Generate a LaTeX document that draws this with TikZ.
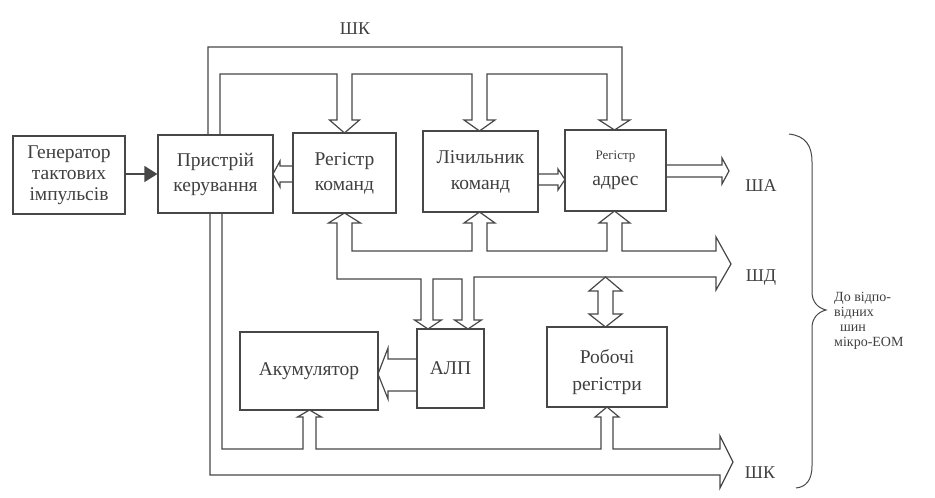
\documentclass[tikz,border=0pt]{standalone}
\usepackage{fontspec}
\setmainfont{Liberation Serif}
\usetikzlibrary{arrows.meta}
\definecolor{ink}{gray}{0.28}
\definecolor{txt}{gray}{0.25}
\begin{document}
\begin{tikzpicture}[x=1pt,y=-1pt,
  box/.style={draw=ink, line width=1.2pt, inner sep=0pt, align=center, text=txt, font=\fontsize{19.5}{21}\selectfont},
  bus/.style={draw=ink, line width=1.2pt, line join=miter},
  lbl/.style={text=txt, font=\fontsize{18}{21}\selectfont, inner sep=0pt},
  small/.style={text=txt, font=\fontsize{14}{14}\selectfont, inner sep=0pt, anchor=base west}]
\fill[white] (0,0) rectangle (935,498);
\path[use as bounding box] (0,0) rectangle (935,498);

% boxes
\node[box, minimum width=112pt, minimum height=78pt] (gen) at (69,175) {Генератор\\тактових\\імпульсів};
\node[box, minimum width=115pt, minimum height=78pt, font=\fontsize{19.5}{25}\selectfont] (pk) at (215.5,174) {Пристрій\\керування};
\node[box, minimum width=103pt, minimum height=80pt, font=\fontsize{19.5}{25}\selectfont] (rk) at (344.5,173) {Регістр\\команд};
\node[box, minimum width=115pt, minimum height=81pt, font=\fontsize{19.5}{26}\selectfont] (lk) at (480.5,171.5) {Лічильник\\команд};
\node[box, minimum width=101pt, minimum height=81pt, font=\fontsize{19.5}{26}\selectfont] (ra) at (615.5,170.5) {{\fontsize{13}{15}\selectfont Регістр}\\адрес};
\node[box, minimum width=138pt, minimum height=78pt] (ak) at (309,371) {Акумулятор};
\node[box, minimum width=67pt, minimum height=79pt] (alp) at (450.5,368.5) {АЛП};
\node[box, minimum width=120pt, minimum height=80pt] (rr) at (607,367) {};
\node[box, draw=none, font=\fontsize{19.5}{27}\selectfont] (rrtext) at (607,372) {Робочі\\регістри};

% generator -> control unit
\draw[draw=ink, line width=1.2pt, -{Triangle[length=13pt,width=16pt]}] (gen.east |- 0,174) -- (pk.west |- 0,174);

% top control bus (ШК)
\draw[bus] (208,135) -- (208,47) -- (622,47) -- (622,120) -- (630,120) -- (614.5,130)
  -- (599,120) -- (607,120) -- (607,74) -- (487,74) -- (487,120) -- (495,120)
  -- (479.5,131) -- (464,120) -- (472,120) -- (472,74) -- (352,74) -- (352,120)
  -- (359.5,120) -- (344.5,133) -- (329.5,120) -- (337,120) -- (337,74) -- (220,74) -- (220,135);

% data bus (ШД)
\draw[bus] (344.5,213) -- (360.5,223) -- (352,223) -- (352,251) -- (472,251) -- (472,223)
  -- (464,223) -- (479.5,212) -- (495,223) -- (487,223) -- (487,251) -- (607,251)
  -- (607,223) -- (599,223) -- (614.5,211) -- (630,223) -- (622,223) -- (622,251)
  -- (716,251) -- (716,237) -- (731,264) -- (716,290) -- (716,277) -- (474,277)
  -- (474,320) -- (481.5,320) -- (468,329) -- (454.5,320) -- (462,320) -- (462,279)
  -- (433,279) -- (433,320) -- (441.5,320) -- (428,329) -- (414.5,320) -- (421,320)
  -- (421,279) -- (337,279) -- (337,223) -- (328.5,223) -- cycle;

% double arrow to working registers
\draw[bus] (605.5,277) -- (622,291) -- (613,291) -- (613,314) -- (622,314) -- (605.5,327)
  -- (589,314) -- (598,314) -- (598,291) -- (589,291) -- cycle;

% bottom control bus (ШК)
\draw[bus] (210,213) -- (210,475) -- (720,475) -- (720,488) -- (733,462) -- (720,436)
  -- (720,449) -- (613,449) -- (613,417) -- (619,417) -- (607,407) -- (595,417)
  -- (601,417) -- (601,449) -- (316,449) -- (316,417) -- (321.5,417) -- (309.5,410)
  -- (297.5,417) -- (303,417) -- (303,449) -- (222,449) -- (222,213);

% ALP -> accumulator
\draw[bus] (417,359) -- (388,359) -- (388,348) -- (378,374) -- (388,399) -- (388,391) -- (417,391);

% instruction register -> control unit
\draw[bus] (293,166) -- (280,166) -- (280,161) -- (273,174) -- (280,187) -- (280,182) -- (293,182);

% counter -> address register
\draw[bus] (538,174) -- (558,174) -- (558,169) -- (565,179.5) -- (558,190) -- (558,185) -- (538,185);

% address register -> ША
\draw[bus] (666,165) -- (722,165) -- (722,158) -- (729,171) -- (722,184) -- (722,177) -- (666,177);

% bus labels
\node[lbl] (shk1) at (355,29) {ШК};
\node[lbl] (sha) at (761,186) {ША};
\node[lbl] (shd) at (761,278) {ШД};
\node[lbl] (shk2) at (760,473) {ШК};

% brace
\draw[draw=ink, line width=1pt] (789,134) .. controls (806,136) and (812,146) .. (812,162)
  -- (812,292) .. controls (812,302) and (818,308) .. (826,310)
  .. controls (818,312) and (812,318) .. (812,328)
  -- (812,466) .. controls (812,480) and (806,487) .. (796,488);
\node[small] (t1) at (834,301) {До відпо-};
\node[small] (t2) at (834,316) {відних};
\node[small] (t3) at (840,331) {шин};
\node[small] (t4) at (834,346) {мікро-ЕОМ};
\end{tikzpicture}
\end{document}
